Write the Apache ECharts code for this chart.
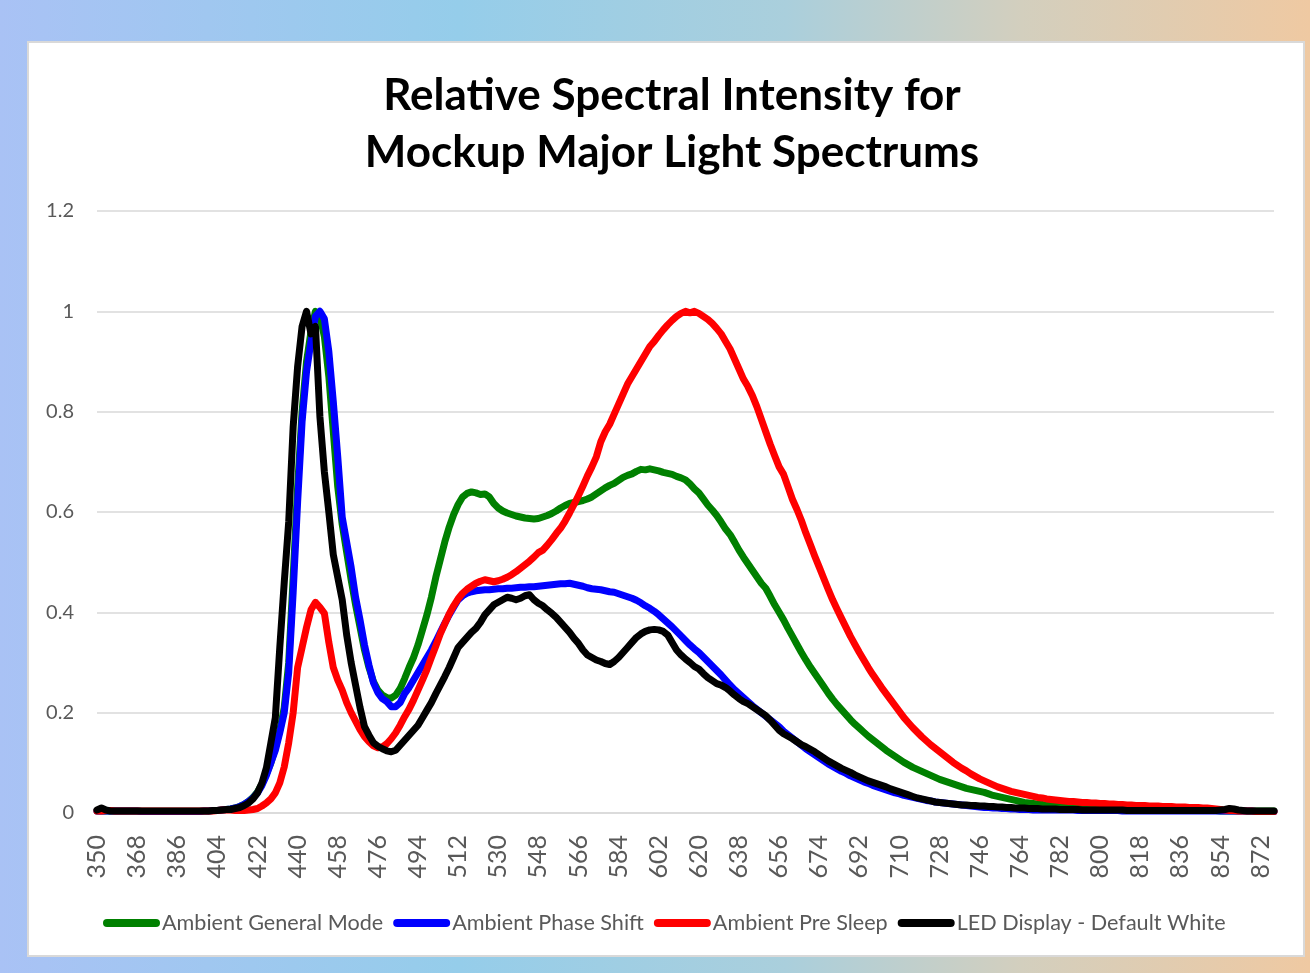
<!DOCTYPE html>
<html>
<head>
<meta charset="utf-8">
<title>Relative Spectral Intensity</title>
<script src="https://cdn.jsdelivr.net/npm/echarts@6/dist/echarts.min.js"></script>
<style>
  html, body { margin: 0; padding: 0; }
  #chart { width: 1310px; height: 973px; }
</style>
</head>
<body>
<div id="chart"></div>
<script>
// wavelength (nm), 2 nm step
const wavelengths = [
  350, 352, 354, 356, 358, 360, 362, 364, 366, 368,
  370, 372, 374, 376, 378, 380, 382, 384, 386, 388,
  390, 392, 394, 396, 398, 400, 402, 404, 406, 408,
  410, 412, 414, 416, 418, 420, 422, 424, 426, 428,
  430, 432, 434, 436, 438, 440, 442, 444, 446, 448,
  450, 452, 454, 456, 458, 460, 462, 464, 466, 468,
  470, 472, 474, 476, 478, 480, 482, 484, 486, 488,
  490, 492, 494, 496, 498, 500, 502, 504, 506, 508,
  510, 512, 514, 516, 518, 520, 522, 524, 526, 528,
  530, 532, 534, 536, 538, 540, 542, 544, 546, 548,
  550, 552, 554, 556, 558, 560, 562, 564, 566, 568,
  570, 572, 574, 576, 578, 580, 582, 584, 586, 588,
  590, 592, 594, 596, 598, 600, 602, 604, 606, 608,
  610, 612, 614, 616, 618, 620, 622, 624, 626, 628,
  630, 632, 634, 636, 638, 640, 642, 644, 646, 648,
  650, 652, 654, 656, 658, 660, 662, 664, 666, 668,
  670, 672, 674, 676, 678, 680, 682, 684, 686, 688,
  690, 692, 694, 696, 698, 700, 702, 704, 706, 708,
  710, 712, 714, 716, 718, 720, 722, 724, 726, 728,
  730, 732, 734, 736, 738, 740, 742, 744, 746, 748,
  750, 752, 754, 756, 758, 760, 762, 764, 766, 768,
  770, 772, 774, 776, 778, 780, 782, 784, 786, 788,
  790, 792, 794, 796, 798, 800, 802, 804, 806, 808,
  810, 812, 814, 816, 818, 820, 822, 824, 826, 828,
  830, 832, 834, 836, 838, 840, 842, 844, 846, 848,
  850, 852, 854, 856, 858, 860, 862, 864, 866, 868,
  870, 872, 874, 876, 878
];

const generalMode = [
  0.004, 0.004, 0.004, 0.004, 0.004, 0.004, 0.004, 0.004, 0.004, 0.004,
  0.003, 0.003, 0.003, 0.003, 0.003, 0.003, 0.003, 0.003, 0.003, 0.003,
  0.003, 0.003, 0.003, 0.003, 0.004, 0.004, 0.005, 0.005, 0.006, 0.007,
  0.008, 0.010, 0.013, 0.017, 0.023, 0.031, 0.042, 0.058, 0.078, 0.100,
  0.130, 0.165, 0.210, 0.300, 0.470, 0.650, 0.800, 0.900, 0.960, 1.000,
  0.990, 0.950, 0.870, 0.760, 0.650, 0.575, 0.520, 0.465, 0.415, 0.370,
  0.325, 0.290, 0.262, 0.245, 0.235, 0.230, 0.229, 0.235, 0.248, 0.268,
  0.290, 0.310, 0.335, 0.365, 0.395, 0.430, 0.470, 0.505, 0.540, 0.570,
  0.595, 0.615, 0.630, 0.637, 0.640, 0.638, 0.635, 0.636, 0.630, 0.617,
  0.608, 0.602, 0.598, 0.595, 0.592, 0.590, 0.588, 0.587, 0.586, 0.587,
  0.590, 0.593, 0.597, 0.602, 0.608, 0.613, 0.617, 0.619, 0.621, 0.623,
  0.626, 0.630, 0.636, 0.642, 0.648, 0.653, 0.657, 0.663, 0.669, 0.673,
  0.676, 0.681, 0.685, 0.684, 0.686, 0.684, 0.682, 0.679, 0.677, 0.675,
  0.671, 0.668, 0.664, 0.656, 0.646, 0.638, 0.626, 0.614, 0.604, 0.593,
  0.580, 0.566, 0.555, 0.540, 0.524, 0.510, 0.497, 0.484, 0.471, 0.458,
  0.448, 0.432, 0.415, 0.400, 0.385, 0.368, 0.352, 0.336, 0.320, 0.305,
  0.291, 0.278, 0.265, 0.252, 0.239, 0.227, 0.216, 0.206, 0.196, 0.186,
  0.177, 0.169, 0.161, 0.153, 0.146, 0.139, 0.132, 0.125, 0.119, 0.113,
  0.107, 0.101, 0.096, 0.091, 0.087, 0.083, 0.079, 0.075, 0.071, 0.067,
  0.064, 0.061, 0.058, 0.055, 0.052, 0.049, 0.047, 0.045, 0.043, 0.041,
  0.038, 0.035, 0.033, 0.031, 0.029, 0.027, 0.025, 0.023, 0.021, 0.020,
  0.019, 0.018, 0.017, 0.016, 0.015, 0.014, 0.013, 0.012, 0.012, 0.011,
  0.011, 0.010, 0.010, 0.009, 0.009, 0.009, 0.008, 0.008, 0.008, 0.007,
  0.007, 0.007, 0.007, 0.007, 0.006, 0.006, 0.006, 0.006, 0.006, 0.006,
  0.006, 0.006, 0.005, 0.005, 0.005, 0.005, 0.005, 0.005, 0.005, 0.005,
  0.005, 0.005, 0.004, 0.004, 0.004, 0.004, 0.004, 0.004, 0.004, 0.004,
  0.004, 0.004, 0.004, 0.004, 0.004
];

const phaseShift = [
  0.004, 0.004, 0.004, 0.004, 0.004, 0.004, 0.004, 0.004, 0.004, 0.004,
  0.003, 0.003, 0.003, 0.003, 0.003, 0.003, 0.003, 0.003, 0.003, 0.003,
  0.003, 0.003, 0.003, 0.003, 0.004, 0.004, 0.005, 0.005, 0.006, 0.007,
  0.008, 0.010, 0.013, 0.017, 0.023, 0.030, 0.040, 0.055, 0.075, 0.100,
  0.125, 0.160, 0.200, 0.280, 0.440, 0.620, 0.780, 0.880, 0.940, 0.990,
  1.000, 0.985, 0.920, 0.820, 0.710, 0.590, 0.540, 0.490, 0.430, 0.385,
  0.335, 0.295, 0.260, 0.240, 0.228, 0.222, 0.212, 0.212, 0.220, 0.238,
  0.250, 0.265, 0.280, 0.295, 0.310, 0.325, 0.342, 0.360, 0.378, 0.395,
  0.410, 0.425, 0.433, 0.438, 0.441, 0.443, 0.444, 0.445, 0.445, 0.446,
  0.447, 0.447, 0.448, 0.448, 0.449, 0.450, 0.450, 0.451, 0.451, 0.452,
  0.453, 0.454, 0.455, 0.456, 0.457, 0.457, 0.458, 0.456, 0.454, 0.452,
  0.449, 0.447, 0.446, 0.445, 0.443, 0.441, 0.440, 0.437, 0.434, 0.431,
  0.428, 0.424, 0.419, 0.413, 0.408, 0.402, 0.395, 0.387, 0.379, 0.371,
  0.362, 0.353, 0.344, 0.335, 0.327, 0.320, 0.311, 0.302, 0.293, 0.284,
  0.275, 0.265, 0.255, 0.246, 0.238, 0.230, 0.222, 0.214, 0.207, 0.200,
  0.193, 0.186, 0.179, 0.172, 0.163, 0.156, 0.149, 0.142, 0.135, 0.128,
  0.122, 0.116, 0.110, 0.104, 0.098, 0.093, 0.088, 0.083, 0.079, 0.074,
  0.070, 0.066, 0.062, 0.059, 0.055, 0.052, 0.049, 0.046, 0.043, 0.040,
  0.038, 0.035, 0.033, 0.031, 0.029, 0.027, 0.025, 0.024, 0.022, 0.021,
  0.020, 0.019, 0.018, 0.017, 0.016, 0.015, 0.014, 0.013, 0.012, 0.011,
  0.011, 0.010, 0.010, 0.009, 0.009, 0.008, 0.008, 0.007, 0.007, 0.007,
  0.006, 0.006, 0.006, 0.006, 0.006, 0.006, 0.006, 0.006, 0.006, 0.006,
  0.005, 0.005, 0.005, 0.005, 0.005, 0.005, 0.005, 0.005, 0.005, 0.005,
  0.004, 0.004, 0.004, 0.004, 0.004, 0.004, 0.004, 0.004, 0.004, 0.004,
  0.004, 0.004, 0.004, 0.004, 0.004, 0.004, 0.004, 0.004, 0.004, 0.004,
  0.004, 0.004, 0.004, 0.004, 0.004, 0.004, 0.004, 0.004, 0.004, 0.004,
  0.003, 0.003, 0.003, 0.003, 0.003
];

const preSleep = [
  0.004, 0.004, 0.005, 0.005, 0.004, 0.004, 0.004, 0.004, 0.004, 0.004,
  0.004, 0.004, 0.004, 0.004, 0.004, 0.004, 0.004, 0.004, 0.004, 0.004,
  0.004, 0.004, 0.004, 0.004, 0.004, 0.004, 0.004, 0.005, 0.006, 0.006,
  0.006, 0.005, 0.005, 0.005, 0.006, 0.007, 0.009, 0.014, 0.020, 0.028,
  0.040, 0.060, 0.092, 0.140, 0.200, 0.290, 0.330, 0.370, 0.405, 0.420,
  0.410, 0.398, 0.340, 0.290, 0.265, 0.245, 0.220, 0.200, 0.183, 0.166,
  0.152, 0.142, 0.134, 0.130, 0.132, 0.138, 0.148, 0.160, 0.175, 0.192,
  0.207, 0.225, 0.245, 0.265, 0.286, 0.310, 0.333, 0.357, 0.377, 0.397,
  0.413, 0.427, 0.438, 0.446, 0.452, 0.458, 0.462, 0.465, 0.463, 0.461,
  0.463, 0.466, 0.470, 0.475, 0.481, 0.488, 0.495, 0.502, 0.510, 0.519,
  0.524, 0.534, 0.545, 0.557, 0.568, 0.582, 0.598, 0.615, 0.633, 0.652,
  0.672, 0.690, 0.710, 0.740, 0.760, 0.775, 0.795, 0.815, 0.835, 0.855,
  0.870, 0.885, 0.900, 0.915, 0.930, 0.940, 0.952, 0.963, 0.973, 0.982,
  0.990, 0.996, 1.000, 0.997, 1.000, 0.996, 0.990, 0.984, 0.976, 0.966,
  0.955, 0.940, 0.925, 0.905, 0.885, 0.865, 0.850, 0.832, 0.810, 0.785,
  0.760, 0.735, 0.712, 0.690, 0.675, 0.650, 0.625, 0.605, 0.583, 0.558,
  0.535, 0.512, 0.490, 0.468, 0.446, 0.425, 0.406, 0.388, 0.370, 0.352,
  0.336, 0.320, 0.305, 0.290, 0.276, 0.263, 0.250, 0.238, 0.226, 0.214,
  0.202, 0.190, 0.180, 0.170, 0.161, 0.152, 0.144, 0.136, 0.129, 0.122,
  0.115, 0.108, 0.101, 0.095, 0.089, 0.084, 0.078, 0.073, 0.068, 0.064,
  0.060, 0.056, 0.052, 0.049, 0.046, 0.043, 0.041, 0.039, 0.037, 0.035,
  0.033, 0.031, 0.030, 0.028, 0.027, 0.026, 0.025, 0.024, 0.023, 0.023,
  0.022, 0.021, 0.021, 0.020, 0.020, 0.019, 0.019, 0.018, 0.018, 0.017,
  0.017, 0.016, 0.016, 0.015, 0.015, 0.015, 0.014, 0.014, 0.014, 0.013,
  0.013, 0.013, 0.012, 0.012, 0.012, 0.011, 0.011, 0.011, 0.010, 0.010,
  0.009, 0.008, 0.007, 0.006, 0.005, 0.005, 0.004, 0.004, 0.004, 0.004,
  0.003, 0.003, 0.003, 0.003, 0.003
];

const ledWhite = [
  0.006, 0.010, 0.006, 0.004, 0.004, 0.004, 0.004, 0.004, 0.004, 0.004,
  0.004, 0.004, 0.004, 0.004, 0.004, 0.004, 0.004, 0.004, 0.004, 0.004,
  0.004, 0.004, 0.004, 0.004, 0.004, 0.004, 0.005, 0.005, 0.006, 0.007,
  0.007, 0.009, 0.011, 0.015, 0.020, 0.028, 0.040, 0.060, 0.090, 0.140,
  0.190, 0.330, 0.460, 0.580, 0.770, 0.890, 0.970, 1.000, 0.955, 0.970,
  0.790, 0.680, 0.600, 0.515, 0.470, 0.425, 0.355, 0.300, 0.255, 0.210,
  0.172, 0.155, 0.140, 0.133, 0.128, 0.124, 0.122, 0.125, 0.135, 0.145,
  0.155, 0.165, 0.175, 0.190, 0.205, 0.220, 0.238, 0.255, 0.272, 0.290,
  0.310, 0.330, 0.340, 0.350, 0.360, 0.368, 0.380, 0.395, 0.405, 0.415,
  0.420, 0.425, 0.430, 0.428, 0.425, 0.428, 0.433, 0.435, 0.425, 0.418,
  0.413, 0.405, 0.398, 0.390, 0.380, 0.370, 0.360, 0.348, 0.338, 0.325,
  0.315, 0.310, 0.305, 0.302, 0.298, 0.296, 0.302, 0.310, 0.320, 0.330,
  0.340, 0.350, 0.357, 0.362, 0.365, 0.366, 0.365, 0.362, 0.355, 0.340,
  0.325, 0.315, 0.307, 0.300, 0.292, 0.287, 0.278, 0.270, 0.264, 0.258,
  0.255, 0.250, 0.243, 0.235, 0.228, 0.222, 0.218, 0.212, 0.206, 0.200,
  0.194, 0.185, 0.175, 0.165, 0.158, 0.153, 0.148, 0.142, 0.136, 0.132,
  0.127, 0.122, 0.116, 0.110, 0.104, 0.099, 0.094, 0.089, 0.085, 0.081,
  0.076, 0.072, 0.068, 0.064, 0.061, 0.058, 0.055, 0.052, 0.048, 0.045,
  0.042, 0.039, 0.036, 0.033, 0.030, 0.028, 0.026, 0.024, 0.022, 0.021,
  0.020, 0.019, 0.018, 0.017, 0.016, 0.016, 0.015, 0.015, 0.014, 0.014,
  0.013, 0.013, 0.012, 0.012, 0.011, 0.011, 0.010, 0.010, 0.010, 0.009,
  0.009, 0.009, 0.008, 0.008, 0.008, 0.008, 0.007, 0.007, 0.007, 0.007,
  0.007, 0.006, 0.006, 0.006, 0.006, 0.006, 0.006, 0.006, 0.006, 0.006,
  0.006, 0.005, 0.005, 0.005, 0.005, 0.005, 0.005, 0.005, 0.005, 0.005,
  0.005, 0.005, 0.005, 0.005, 0.005, 0.005, 0.005, 0.005, 0.005, 0.005,
  0.005, 0.005, 0.006, 0.007, 0.009, 0.008, 0.006, 0.005, 0.004, 0.004,
  0.004, 0.004, 0.004, 0.004, 0.004
];

const seriesNames = [
  'Ambient General Mode',
  'Ambient Phase Shift',
  'Ambient Pre Sleep',
  'LED Display - Default White'
];
const seriesColors = ['#008000', '#0000ff', '#ff0000', '#000000'];
const seriesData = [generalMode, phaseShift, preSleep, ledWhite];

const FONT = 'Lato, "Open Sans", sans-serif';
const chart = echarts.init(document.getElementById('chart'));

const option = {
  animation: false,
  backgroundColor: new echarts.graphic.LinearGradient(0, 0, 1, 0, [
    { offset: 0, color: '#a9c2f5' },
    { offset: 0.35, color: '#95cdea' },
    { offset: 0.6, color: '#aacfdc' },
    { offset: 0.78, color: '#d3cfbe' },
    { offset: 1, color: '#efc9a2' }
  ]),
  // white chart panel
  graphic: [{
    type: 'rect',
    z: -10,
    shape: { x: 28, y: 42, width: 1276, height: 914 },
    style: { fill: '#ffffff', stroke: '#d9d9d9', lineWidth: 2 }
  }],
  title: {
    text: 'Relative Spectral Intensity for\nMockup Major Light Spectrums',
    left: 667,
    textAlign: 'center',
    top: 62,
    textStyle: {
      fontFamily: FONT,
      fontWeight: 'bold',
      fontSize: 44,
      lineHeight: 57,
      color: '#000'
    }
  },
  legend: {
    data: seriesNames,
    left: 98,
    top: 907,
    itemWidth: 57,
    itemHeight: 8,
    itemGap: 10,
    icon: 'path://M4,0 L53,0 A4,4 0 0 1 53,8 L4,8 A4,4 0 0 1 4,0 Z',
    textStyle: { fontFamily: FONT, fontSize: 21.6, color: '#595959', padding: [0, 0, 0, -3] }
  },
  grid: { left: 97, right: 36, top: 211, bottom: 160 },
  xAxis: {
    type: 'category',
    data: wavelengths,
    boundaryGap: false,
    axisLine: { lineStyle: { color: '#d9d9d9', width: 1.5 } },
    axisTick: { show: false },
    axisLabel: {
      interval: 8,
      rotate: 90,
      margin: 22,
      fontFamily: FONT,
      fontSize: 25,
      color: '#595959'
    }
  },
  yAxis: {
    type: 'value',
    min: 0,
    max: 1.2,
    interval: 0.2,
    axisLine: { show: false },
    axisTick: { show: false },
    splitLine: { lineStyle: { color: '#d9d9d9', width: 1.5 } },
    axisLabel: {
      margin: 23,
      fontFamily: FONT,
      fontSize: 20,
      color: '#595959'
    }
  },
  series: seriesNames.map((name, i) => ({
    name: name,
    type: 'line',
    data: seriesData[i],
    showSymbol: false,
    symbol: 'none',
    color: seriesColors[i],
    lineStyle: { width: 7, cap: 'round', join: 'round' },
    z: 2 + i
  }))
};

chart.setOption(option);
</script>
</body>
</html>
